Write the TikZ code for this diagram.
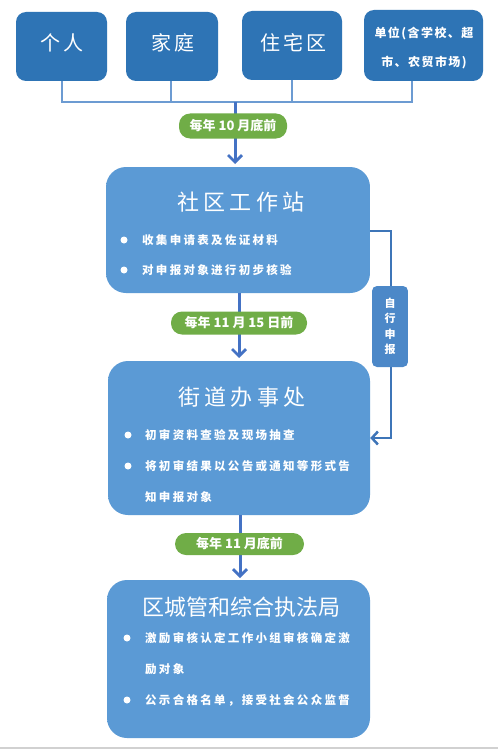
\documentclass[tikz,border=0pt]{standalone}
\usepackage{fontspec}
\newfontfamily\cjk{Noto Sans CJK SC}
\usetikzlibrary{arrows.meta}
\definecolor{topblue}{HTML}{2E74B5}
\definecolor{topdark}{HTML}{1A4675}
\definecolor{mainblue}{HTML}{5B9AD5}
\definecolor{maindark}{HTML}{2F5E96}
\definecolor{sideblue}{HTML}{4C88C8}
\definecolor{brkline}{HTML}{6C9BD2}
\definecolor{arrblue}{HTML}{4472C4}
\definecolor{pillgreen}{HTML}{70AD47}
\definecolor{sideline}{HTML}{3E75B8}
\pgfdeclareverticalshading{topbevel}{100bp}{color(0bp)=(topdark); color(12bp)=(topblue); color(100bp)=(topblue)}
\pgfdeclareverticalshading{mainbevel}{100bp}{color(0bp)=(maindark); color(9bp)=(mainblue); color(100bp)=(mainblue)}
\pgfdeclareverticalshading{sidebevel}{100bp}{color(0bp)=(maindark); color(10bp)=(sideblue); color(100bp)=(sideblue)}
\begin{document}
\begin{tikzpicture}[x=1pt,y=-1pt,
  topbox/.style={shading=topbevel, rounded corners=10pt, inner sep=0pt},
  mainbox/.style={shading=mainbevel, rounded corners=20pt, inner sep=0pt},
  sidebox/.style={shading=sidebevel, rounded corners=5pt, inner sep=0pt, minimum width=36pt, minimum height=81pt},
  pill/.style={fill=pillgreen, rounded corners=11pt, inner sep=0pt, text=white, font=\cjk\bfseries\fontsize{13}{14}\selectfont},
  toptext/.style={text=white, font=\cjk\fontsize{20}{22}\selectfont\addfontfeatures{LetterSpace=15}},
  titletext/.style={text=white, font=\cjk\fontsize{22}{24}\selectfont\addfontfeatures{LetterSpace=20}},
  bultext/.style={text=white, anchor=west, inner sep=0pt, font=\cjk\bfseries\fontsize{11.5}{13}\selectfont\addfontfeatures{LetterSpace=20}},
  dot/.style={circle, fill=white, inner sep=0pt, minimum size=7pt},
  brk/.style={draw=brkline, line width=2pt},
  flow/.style={draw=arrblue, line width=3pt, -{Straight Barb[length=7pt,width=14pt,line width=2.8pt]}},
  side/.style={draw=sideline, line width=2.5pt},
  sidearr/.style={draw=sideline, line width=2.5pt, -{Straight Barb[length=6pt,width=13pt,line width=2.5pt]}}
]
\useasboundingbox (0,0) rectangle (498,749);
\fill[white] (0,0) rectangle (498,749);
\draw[draw=black!18, line width=1.2pt] (0,748) -- (498,748);

% top boxes
\node[topbox, minimum width=91pt, minimum height=69pt] (b1) at (61.5,46.5) {};
\node[topbox, minimum width=92pt, minimum height=69pt] (b2) at (172,46.5) {};
\node[topbox, minimum width=100pt, minimum height=69pt] (b3) at (292,45.5) {};
\node[topbox, minimum width=119pt, minimum height=71pt] (b4) at (423.5,45.5) {};
\node[toptext] (t1) at (62,43) {个人};
\node[toptext] (t2) at (173,43) {家庭};
\node[toptext] (t3) at (293,43) {住宅区};
\node[text=white, font=\cjk\bfseries\fontsize{12}{13}\selectfont\addfontfeatures{LetterSpace=12}] (t4a) at (424,33) {单位(含学校、超};
\node[text=white, font=\cjk\bfseries\fontsize{12}{13}\selectfont\addfontfeatures{LetterSpace=12}] (t4b) at (424,63) {市、农贸市场)};

% bracket
\coordinate (k1) at (62,102);
\coordinate (k2) at (171,102);
\coordinate (k3) at (292,102);
\coordinate (k4) at (412,102);
\coordinate (kc) at (235,102);
\draw[brk] (62,81) -- (k1) -- (k4) -- (412,81);
\draw[brk] (171,81) -- (k2);
\draw[brk] (292,80) -- (k3);

% main boxes
\node[mainbox, minimum width=264pt, minimum height=126pt] (s1) at (238,230) {};
\node[mainbox, minimum width=262pt, minimum height=154pt] (s2) at (239,438) {};
\node[mainbox, minimum width=263pt, minimum height=158pt] (s3) at (238.5,659) {};

% flow arrows
\draw[flow] (kc) -- (235,164);
\draw[flow] (239,293) -- (239,358);
\draw[flow] (240,515) -- (240,578);

% pills
\node[pill, minimum width=108pt, minimum height=25pt] (p1) at (233,126) {每年 10 月底前};
\node[pill, minimum width=136pt, minimum height=23pt] (p2) at (239,323) {每年 11 月 15 日前};
\node[pill, minimum width=129pt, minimum height=22pt] (p3) at (239.5,544) {每年 11 月底前};

% box 1 text
\node[titletext] (h1) at (241,202) {社区工作站};
\node[dot] (d11) at (124,240) {};
\node[bultext] (l11) at (142,240) {收集申请表及佐证材料};
\node[dot] (d12) at (124,270) {};
\node[bultext] (l12) at (142,270) {对申报对象进行初步核验};

% box 2 text
\node[titletext] (h2) at (242,397) {街道办事处};
\node[dot] (d21) at (128,435) {};
\node[bultext] (l21) at (145,435) {初审资料查验及现场抽查};
\node[dot] (d22) at (128,466) {};
\node[bultext] (l22) at (145,466) {将初审结果以公告或通知等形式告};
\node[bultext] (l23) at (145,497) {知申报对象};

% box 3 text
\node[text=white, font=\cjk\fontsize{22}{24}\selectfont] (h3) at (241.5,607) {区城管和综合执法局};
\node[dot] (d31) at (127,638) {};
\node[bultext] (l31) at (145,638) {激励审核认定工作小组审核确定激};
\node[bultext] (l32) at (145,669) {励对象};
\node[dot] (d33) at (127,700) {};
\node[bultext] (l33) at (145,700) {公示合格名单，接受社会公众监督};

% side path
\node[sidebox] (sb) at (390,326.5) {};
\node[text=white, align=center, inner sep=0pt, font=\cjk\bfseries\fontsize{11}{15.5}\selectfont] (sbt) at (sb.center) {自\\行\\申\\报};
\coordinate (c1) at (391,231);
\coordinate (c2) at (391,438);
\draw[side] (s1.east |- c1) -- (c1) -- (sb.north -| c1);
\draw[sidearr] (sb.south -| c2) -- (c2) -- (s2.east |- c2);
\end{tikzpicture}
\end{document}
